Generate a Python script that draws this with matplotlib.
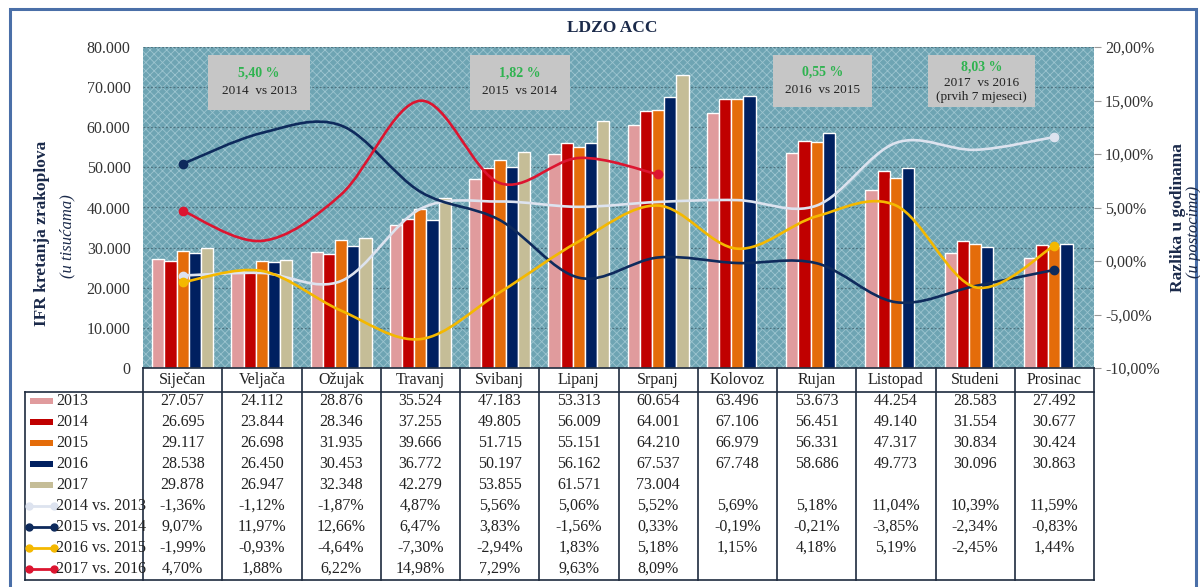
import numpy as np
import matplotlib
matplotlib.use("Agg")
import matplotlib.pyplot as plt
from matplotlib.path import Path
from matplotlib.patches import PathPatch, Rectangle
from matplotlib.lines import Line2D
import matplotlib.transforms as mtransforms

plt.rcParams['font.family'] = ['Liberation Serif', 'DejaVu Serif']
plt.rcParams['hatch.linewidth'] = 0.6

months = ["Siječan", "Veljača", "Ožujak", "Travanj", "Svibanj", "Lipanj",
          "Srpanj", "Kolovoz", "Rujan", "Listopad", "Studeni", "Prosinac"]

bar_labels = ["2013", "2014", "2015", "2016", "2017"]
v2013 = [27057, 24112, 28876, 35524, 47183, 53313, 60654, 63496, 53673, 44254, 28583, 27492]
v2014 = [26695, 23844, 28346, 37255, 49805, 56009, 64001, 67106, 56451, 49140, 31554, 30677]
v2015 = [29117, 26698, 31935, 39666, 51715, 55151, 64210, 66979, 56331, 47317, 30834, 30424]
v2016 = [28538, 26450, 30453, 36772, 50197, 56162, 67537, 67748, 58686, 49773, 30096, 30863]
v2017 = [29878, 26947, 32348, 42279, 53855, 61571, 73004, None, None, None, None, None]
bar_values = [v2013, v2014, v2015, v2016, v2017]
bar_colors = ["#e09b9d", "#c00000", "#e46c0a", "#002060", "#c5bd97"]

line_labels = ["2014 vs. 2013", "2015 vs. 2014", "2016 vs. 2015", "2017 vs. 2016"]
p14_13 = [-1.36, -1.12, -1.87, 4.87, 5.56, 5.06, 5.52, 5.69, 5.18, 11.04, 10.39, 11.59]
p15_14 = [9.07, 11.97, 12.66, 6.47, 3.83, -1.56, 0.33, -0.19, -0.21, -3.85, -2.34, -0.83]
p16_15 = [-1.99, -0.93, -4.64, -7.30, -2.94, 1.83, 5.18, 1.15, 4.18, 5.19, -2.45, 1.44]
p17_16 = [4.70, 1.88, 6.22, 14.98, 7.29, 9.63, 8.09, None, None, None, None, None]
line_values = [p14_13, p15_14, p16_15, p17_16]
line_colors = ["#dde3ef", "#0e2a5c", "#f4b800", "#dc1530"]

box_pct = ["5,40 %", "1,82 %", "0,55 %", "8,03 %"]
box_txt = ["2014  vs 2013", "2015  vs 2014", "2016  vs 2015", "2017  vs 2016\n(prvih 7 mjeseci)"]

W, H = 1200, 587
fig = plt.figure(figsize=(W / 100, H / 100), dpi=100)
fig.patch.set_facecolor("white")

def fx(x):
    return x / W

def fy(y):
    return 1 - y / H

# outer frame
fig.patches.append(Rectangle((fx(10), fy(600)), fx(1186), 600 / H - 9 / H,
                             transform=fig.transFigure, fill=False,
                             edgecolor="#4a6fa8", lw=2.2))

ax = fig.add_axes([fx(143), fy(368), fx(1094 - 143), (368 - 47) / H])
ax.set_facecolor("#6ea4b3")
ax.add_patch(Rectangle((0, 0), 1, 1, transform=ax.transAxes, facecolor="none",
                       edgecolor="#9cc4cf", hatch="xxxx", lw=0, zorder=0))

n = len(months)
x = np.arange(n)
bw = 0.154
for i, (vals, col) in enumerate(zip(bar_values, bar_colors)):
    xs = [x[j] + (i - 2) * bw for j in range(n) if vals[j] is not None]
    ys = [vals[j] for j in range(n) if vals[j] is not None]
    ax.bar(xs, ys, width=bw, color=col, edgecolor="white", linewidth=1.0, zorder=3)

ax.set_xlim(-0.5, n - 0.5)
ax.set_ylim(0, 80000)
ax.set_yticks(np.arange(0, 80001, 10000))
ax.set_yticklabels(["0" if v == 0 else f"{v // 1000}.000" for v in range(0, 80001, 10000)],
                   fontsize=11.5, color="#333333")
ax.tick_params(axis="y", length=0, pad=9)
ax.set_xticks([])
ax.yaxis.grid(True, color="#4f7380", linestyle=(0, (1.5, 1.5)), linewidth=0.9)
ax.set_axisbelow(True)
for s in ax.spines.values():
    s.set_visible(False)

ax2 = ax.twinx()
ax2.set_ylim(-10, 20)
ax2.set_yticks(np.arange(-10, 20.1, 5))
ax2.set_yticklabels([f"{v:.2f}".replace(".", ",") + "%" for v in np.arange(-10, 20.1, 5)],
                    fontsize=11.5, color="#333333")
ax2.tick_params(axis="y", length=5, color="#999999", pad=3)
for s in ax2.spines.values():
    s.set_visible(False)

def smooth_path(xs, ys):
    pts = np.column_stack([xs, ys]).astype(float)
    m = len(pts)
    verts = [pts[0]]
    codes = [Path.MOVETO]
    for k in range(m - 1):
        p0 = pts[k - 1] if k > 0 else pts[k]
        p1 = pts[k]
        p2 = pts[k + 1]
        p3 = pts[k + 2] if k + 2 < m else pts[k + 1]
        c1 = p1 + (p2 - p0) / 6.0
        c2 = p2 - (p3 - p1) / 6.0
        verts += [c1, c2, p2]
        codes += [Path.CURVE4] * 3
    return Path(verts, codes)

for vals, col in zip(line_values, line_colors):
    xs = [x[j] for j in range(n) if vals[j] is not None]
    ys = [vals[j] for j in range(n) if vals[j] is not None]
    ax2.add_patch(PathPatch(smooth_path(xs, ys), facecolor="none", edgecolor=col,
                            lw=1.9, zorder=5, capstyle="round"))
    ax2.plot([xs[0], xs[-1]], [ys[0], ys[-1]], "o", color=col, ms=6, zorder=6)

# annotation boxes
boxes = [(208, 310, 55, 110), (470, 570, 55, 110), (773, 872, 55, 107), (928, 1035, 55, 107)]
for (x0, x1, y0, y1), pct, txt in zip(boxes, box_pct, box_txt):
    fig.patches.append(Rectangle((fx(x0), fy(y1)), fx(x1 - x0), (y1 - y0) / H,
                                 transform=fig.transFigure, facecolor="#c6c6c6",
                                 edgecolor="none", zorder=10))
    lines = txt.split("\n")
    if len(lines) == 1:
        ygreen, ytext = (y0 + y1) / 2 - 9, (y0 + y1) / 2 + 9
    else:
        ygreen, ytext = y0 + 12, y0 + 35
    fig.text(fx((x0 + x1) / 2), fy(ygreen), pct, ha="center", va="center",
             fontsize=10, fontweight="bold", color="#2fb350", zorder=11)
    fig.text(fx((x0 + x1) / 2), fy(ytext), txt, ha="center", va="center",
             fontsize=9.5, color="#222222", zorder=11, linespacing=1.3)

# title
fig.text(fx(612), fy(28), "LDZO ACC", ha="center", va="center", fontsize=12.5,
         fontweight="bold", color="#1b2a4a")

# axis titles
fig.text(fx(42), fy(233), "IFR kretanja zrakoplova", rotation=90, ha="center",
         va="center", fontsize=12.5, fontweight="bold", color="#1b2a4a")
fig.text(fx(67), fy(236), "(u tisućama)", rotation=90, ha="center", va="center",
         fontsize=12, fontstyle="italic", color="#1b2a4a")
fig.text(fx(1178), fy(218), "Razlika u godinama", rotation=90, ha="center",
         va="center", fontsize=12.5, fontweight="bold", color="#1b2a4a")
fig.text(fx(1194), fy(232), "(u postocima)", rotation=90, ha="center",
         va="center", fontsize=12, fontstyle="italic", color="#1b2a4a")

# table
tcol = "#1e2b3e"
blend = mtransforms.blended_transform_factory(ax.transData, fig.transFigure)
def fline(xa, xb, ya, yb, lw=1.2):
    fig.lines.append(Line2D([fx(xa), fx(xb)], [fy(ya), fy(yb)], transform=fig.transFigure,
                            color=tcol, lw=lw))

fline(143, 1094, 368, 368)
fline(25, 1094, 392, 392)
fline(25, 1094, 580, 580)
fline(25, 25, 392, 580)
for k in range(n + 1):
    fig.lines.append(Line2D([k - 0.5, k - 0.5], [fy(368), fy(580)], transform=blend,
                            color=tcol, lw=1.2))

for j, mname in enumerate(months):
    fig.text(j, fy(380), mname, transform=blend, ha="center", va="center",
             fontsize=11.5, color="#222222")

row_y = [401, 422, 443, 464, 485, 506, 527, 548, 569]
for r, (vals, col, lab) in enumerate(zip(bar_values, bar_colors, bar_labels)):
    yy = row_y[r]
    fig.patches.append(Rectangle((fx(30), fy(yy + 3)), fx(23), 6 / H,
                                 transform=fig.transFigure, facecolor=col, edgecolor="none"))
    fig.text(fx(56), fy(yy), lab, ha="left", va="center", fontsize=11.5, color="#222222")
    for j in range(n):
        if vals[j] is not None:
            s = f"{vals[j]:,}".replace(",", ".")
            fig.text(j, fy(yy), s, transform=blend, ha="center", va="center",
                     fontsize=11.5, color="#222222")

for r, (vals, col, lab) in enumerate(zip(line_values, line_colors, line_labels)):
    yy = row_y[5 + r]
    fig.lines.append(Line2D([fx(29), fx(54)], [fy(yy), fy(yy)], transform=fig.transFigure,
                            color=col, lw=2, marker="o", ms=5, markevery=[0, 1]))
    fig.text(fx(56), fy(yy), lab, ha="left", va="center", fontsize=11.5, color="#222222")
    for j in range(n):
        if vals[j] is not None:
            s = f"{vals[j]:.2f}".replace(".", ",") + "%"
            fig.text(j, fy(yy), s, transform=blend, ha="center", va="center",
                     fontsize=11.5, color="#222222")

fig.savefig("out.png", dpi=100)
